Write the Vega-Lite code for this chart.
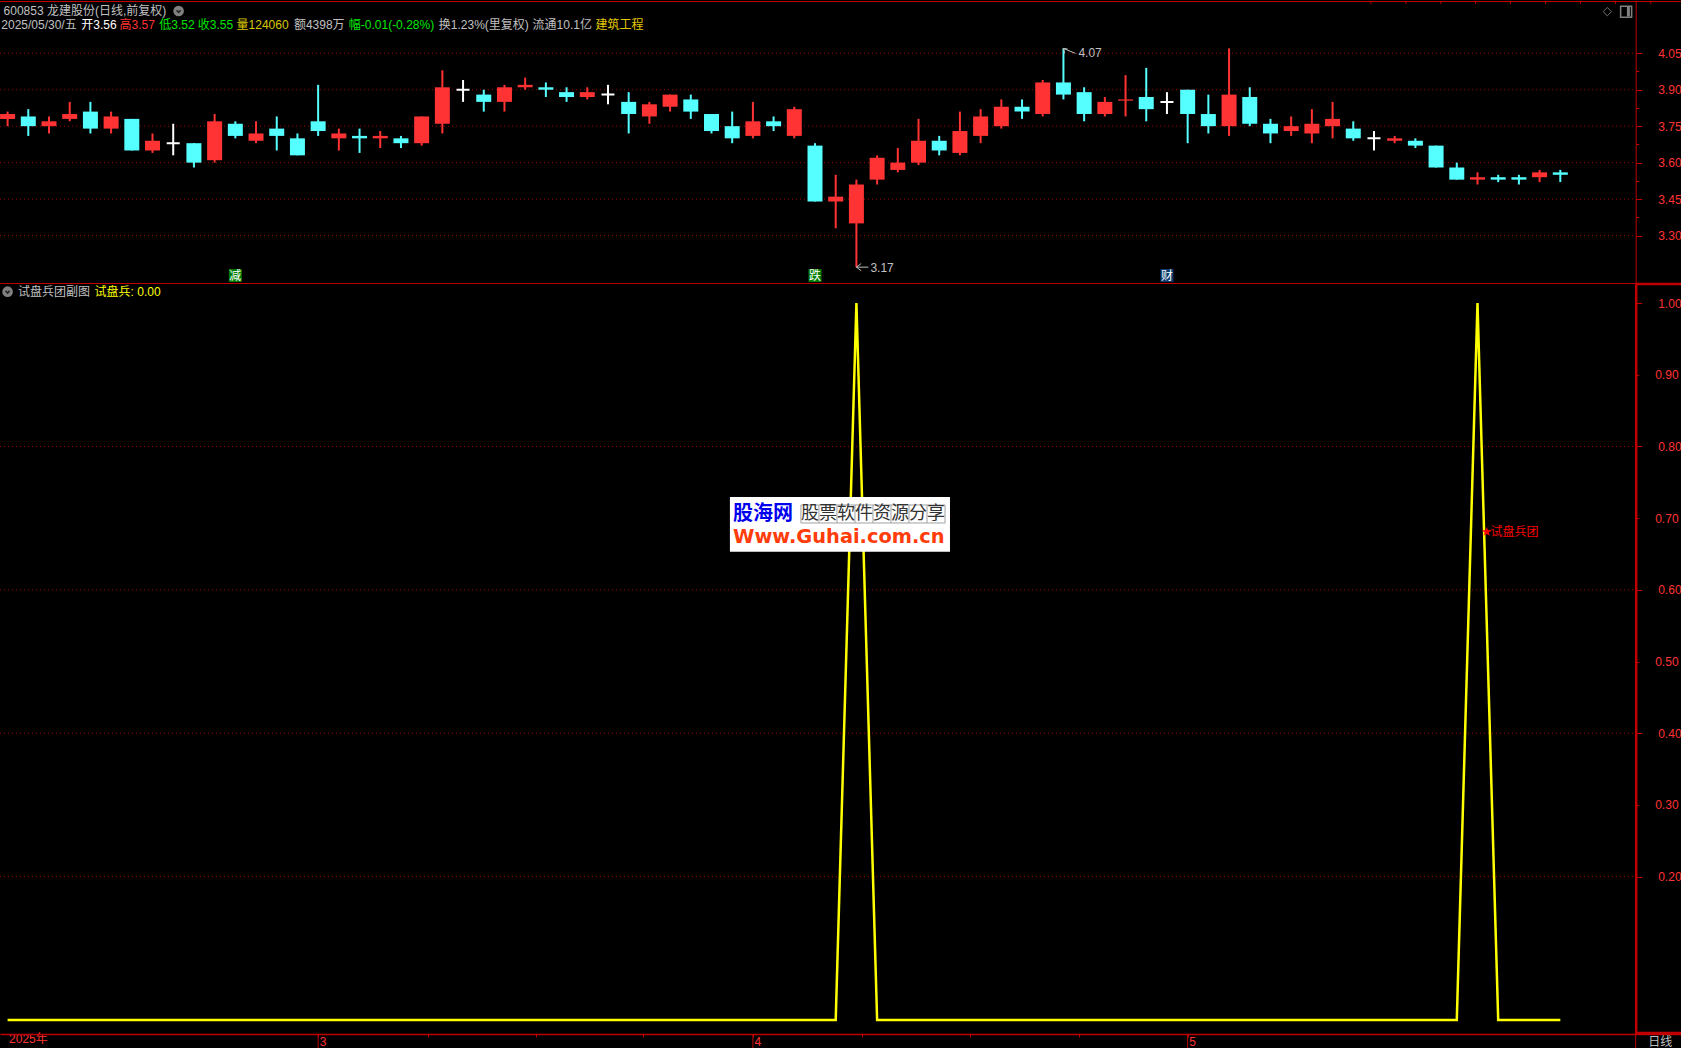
{
"$schema":"https://vega.github.io/schema/vega-lite/v6.json",
"width":1681,"height":1048,"padding":0,"autosize":{"type":"none"},"background":"#000000",
"config":{"view":{"stroke":null},"text":{"font":"Liberation Sans, Noto Sans CJK SC","fontSize":12,"align":"left","baseline":"middle"}},
"datasets":{
"candles":[
{"bar":0,"open":3.78,"high":3.81,"low":3.75,"close":3.80,"dir":"up"},
{"bar":1,"open":3.79,"high":3.82,"low":3.71,"close":3.75,"dir":"down"},
{"bar":2,"open":3.75,"high":3.79,"low":3.72,"close":3.77,"dir":"up"},
{"bar":3,"open":3.78,"high":3.85,"low":3.77,"close":3.80,"dir":"up"},
{"bar":4,"open":3.81,"high":3.85,"low":3.72,"close":3.74,"dir":"down"},
{"bar":5,"open":3.74,"high":3.81,"low":3.72,"close":3.79,"dir":"up"},
{"bar":6,"open":3.78,"high":3.78,"low":3.65,"close":3.65,"dir":"down"},
{"bar":7,"open":3.65,"high":3.72,"low":3.64,"close":3.69,"dir":"up"},
{"bar":8,"open":3.68,"high":3.76,"low":3.63,"close":3.68,"dir":"flat"},
{"bar":9,"open":3.68,"high":3.68,"low":3.58,"close":3.60,"dir":"down"},
{"bar":10,"open":3.61,"high":3.80,"low":3.60,"close":3.77,"dir":"up"},
{"bar":11,"open":3.76,"high":3.77,"low":3.70,"close":3.71,"dir":"down"},
{"bar":12,"open":3.69,"high":3.77,"low":3.68,"close":3.72,"dir":"up"},
{"bar":13,"open":3.74,"high":3.79,"low":3.65,"close":3.71,"dir":"down"},
{"bar":14,"open":3.70,"high":3.72,"low":3.63,"close":3.63,"dir":"down"},
{"bar":15,"open":3.77,"high":3.92,"low":3.71,"close":3.73,"dir":"down"},
{"bar":16,"open":3.70,"high":3.74,"low":3.65,"close":3.72,"dir":"up"},
{"bar":17,"open":3.71,"high":3.74,"low":3.64,"close":3.70,"dir":"down"},
{"bar":18,"open":3.70,"high":3.73,"low":3.66,"close":3.71,"dir":"up"},
{"bar":19,"open":3.70,"high":3.71,"low":3.66,"close":3.68,"dir":"down"},
{"bar":20,"open":3.68,"high":3.79,"low":3.67,"close":3.79,"dir":"up"},
{"bar":21,"open":3.76,"high":3.98,"low":3.72,"close":3.91,"dir":"up"},
{"bar":22,"open":3.90,"high":3.94,"low":3.85,"close":3.90,"dir":"flat"},
{"bar":23,"open":3.88,"high":3.90,"low":3.81,"close":3.85,"dir":"down"},
{"bar":24,"open":3.85,"high":3.92,"low":3.81,"close":3.91,"dir":"up"},
{"bar":25,"open":3.91,"high":3.95,"low":3.90,"close":3.92,"dir":"up"},
{"bar":26,"open":3.91,"high":3.93,"low":3.87,"close":3.90,"dir":"down"},
{"bar":27,"open":3.89,"high":3.91,"low":3.85,"close":3.87,"dir":"down"},
{"bar":28,"open":3.87,"high":3.91,"low":3.86,"close":3.89,"dir":"up"},
{"bar":29,"open":3.88,"high":3.92,"low":3.84,"close":3.88,"dir":"flat"},
{"bar":30,"open":3.85,"high":3.89,"low":3.72,"close":3.80,"dir":"down"},
{"bar":31,"open":3.79,"high":3.85,"low":3.76,"close":3.84,"dir":"up"},
{"bar":32,"open":3.83,"high":3.88,"low":3.81,"close":3.88,"dir":"up"},
{"bar":33,"open":3.86,"high":3.88,"low":3.78,"close":3.81,"dir":"down"},
{"bar":34,"open":3.80,"high":3.80,"low":3.72,"close":3.73,"dir":"down"},
{"bar":35,"open":3.75,"high":3.81,"low":3.68,"close":3.70,"dir":"down"},
{"bar":36,"open":3.71,"high":3.85,"low":3.70,"close":3.77,"dir":"up"},
{"bar":37,"open":3.77,"high":3.79,"low":3.73,"close":3.75,"dir":"down"},
{"bar":38,"open":3.71,"high":3.83,"low":3.70,"close":3.82,"dir":"up"},
{"bar":39,"open":3.67,"high":3.68,"low":3.44,"close":3.44,"dir":"down"},
{"bar":40,"open":3.44,"high":3.55,"low":3.33,"close":3.46,"dir":"up"},
{"bar":41,"open":3.35,"high":3.53,"low":3.17,"close":3.51,"dir":"up"},
{"bar":42,"open":3.53,"high":3.63,"low":3.51,"close":3.62,"dir":"up"},
{"bar":43,"open":3.57,"high":3.66,"low":3.56,"close":3.60,"dir":"up"},
{"bar":44,"open":3.60,"high":3.78,"low":3.59,"close":3.69,"dir":"up"},
{"bar":45,"open":3.69,"high":3.71,"low":3.63,"close":3.65,"dir":"down"},
{"bar":46,"open":3.64,"high":3.81,"low":3.63,"close":3.73,"dir":"up"},
{"bar":47,"open":3.71,"high":3.82,"low":3.68,"close":3.79,"dir":"up"},
{"bar":48,"open":3.75,"high":3.86,"low":3.74,"close":3.83,"dir":"up"},
{"bar":49,"open":3.83,"high":3.86,"low":3.78,"close":3.81,"dir":"down"},
{"bar":50,"open":3.80,"high":3.94,"low":3.79,"close":3.93,"dir":"up"},
{"bar":51,"open":3.93,"high":4.07,"low":3.86,"close":3.88,"dir":"down"},
{"bar":52,"open":3.89,"high":3.91,"low":3.77,"close":3.80,"dir":"down"},
{"bar":53,"open":3.80,"high":3.87,"low":3.79,"close":3.85,"dir":"up"},
{"bar":54,"open":3.855,"high":3.96,"low":3.79,"close":3.86,"dir":"up"},
{"bar":55,"open":3.87,"high":3.99,"low":3.77,"close":3.82,"dir":"down"},
{"bar":56,"open":3.85,"high":3.89,"low":3.80,"close":3.85,"dir":"flat"},
{"bar":57,"open":3.90,"high":3.90,"low":3.68,"close":3.80,"dir":"down"},
{"bar":58,"open":3.80,"high":3.88,"low":3.72,"close":3.75,"dir":"down"},
{"bar":59,"open":3.75,"high":4.07,"low":3.71,"close":3.88,"dir":"up"},
{"bar":60,"open":3.87,"high":3.91,"low":3.75,"close":3.76,"dir":"down"},
{"bar":61,"open":3.76,"high":3.78,"low":3.68,"close":3.72,"dir":"down"},
{"bar":62,"open":3.73,"high":3.79,"low":3.71,"close":3.75,"dir":"up"},
{"bar":63,"open":3.72,"high":3.82,"low":3.68,"close":3.76,"dir":"up"},
{"bar":64,"open":3.75,"high":3.85,"low":3.70,"close":3.78,"dir":"up"},
{"bar":65,"open":3.74,"high":3.77,"low":3.69,"close":3.70,"dir":"down"},
{"bar":66,"open":3.70,"high":3.73,"low":3.65,"close":3.70,"dir":"flat"},
{"bar":67,"open":3.69,"high":3.71,"low":3.68,"close":3.70,"dir":"up"},
{"bar":68,"open":3.69,"high":3.70,"low":3.66,"close":3.67,"dir":"down"},
{"bar":69,"open":3.67,"high":3.67,"low":3.58,"close":3.58,"dir":"down"},
{"bar":70,"open":3.58,"high":3.60,"low":3.53,"close":3.53,"dir":"down"},
{"bar":71,"open":3.53,"high":3.56,"low":3.51,"close":3.54,"dir":"up"},
{"bar":72,"open":3.54,"high":3.55,"low":3.52,"close":3.53,"dir":"down"},
{"bar":73,"open":3.54,"high":3.55,"low":3.51,"close":3.53,"dir":"down"},
{"bar":74,"open":3.54,"high":3.57,"low":3.52,"close":3.56,"dir":"up"},
{"bar":75,"open":3.56,"high":3.57,"low":3.52,"close":3.55,"dir":"down"}
],
"signal":[
{"bar":0,"value":0},{"bar":1,"value":0},{"bar":2,"value":0},{"bar":3,"value":0},{"bar":4,"value":0},{"bar":5,"value":0},{"bar":6,"value":0},{"bar":7,"value":0},{"bar":8,"value":0},{"bar":9,"value":0},
{"bar":10,"value":0},{"bar":11,"value":0},{"bar":12,"value":0},{"bar":13,"value":0},{"bar":14,"value":0},{"bar":15,"value":0},{"bar":16,"value":0},{"bar":17,"value":0},{"bar":18,"value":0},{"bar":19,"value":0},
{"bar":20,"value":0},{"bar":21,"value":0},{"bar":22,"value":0},{"bar":23,"value":0},{"bar":24,"value":0},{"bar":25,"value":0},{"bar":26,"value":0},{"bar":27,"value":0},{"bar":28,"value":0},{"bar":29,"value":0},
{"bar":30,"value":0},{"bar":31,"value":0},{"bar":32,"value":0},{"bar":33,"value":0},{"bar":34,"value":0},{"bar":35,"value":0},{"bar":36,"value":0},{"bar":37,"value":0},{"bar":38,"value":0},{"bar":39,"value":0},
{"bar":40,"value":0},{"bar":41,"value":1},{"bar":42,"value":0},{"bar":43,"value":0},{"bar":44,"value":0},{"bar":45,"value":0},{"bar":46,"value":0},{"bar":47,"value":0},{"bar":48,"value":0},{"bar":49,"value":0},
{"bar":50,"value":0},{"bar":51,"value":0},{"bar":52,"value":0},{"bar":53,"value":0},{"bar":54,"value":0},{"bar":55,"value":0},{"bar":56,"value":0},{"bar":57,"value":0},{"bar":58,"value":0},{"bar":59,"value":0},
{"bar":60,"value":0},{"bar":61,"value":0},{"bar":62,"value":0},{"bar":63,"value":0},{"bar":64,"value":0},{"bar":65,"value":0},{"bar":66,"value":0},{"bar":67,"value":0},{"bar":68,"value":0},{"bar":69,"value":0},
{"bar":70,"value":0},{"bar":71,"value":1},{"bar":72,"value":0},{"bar":73,"value":0},{"bar":74,"value":0},{"bar":75,"value":0}
],
"one":[{"n":1}]
},
"resolve":{"scale":{"y":"independent"},"axis":{"y":"independent"}},
"layer":[
{"layer":[
 {"data":{"values":[{"price":3.30},{"price":3.45},{"price":3.60},{"price":3.75},{"price":3.90},{"price":4.05}]},
  "mark":{"type":"rule","color":"#a80000","strokeWidth":1,"strokeDash":[1,3]},
  "encoding":{
   "x":{"datum":-0.367,"type":"quantitative","scale":{"domain":[-0.367,80.83],"nice":false,"zero":false,"padding":0}},
   "x2":{"datum":78.64},
   "y":{"field":"price","type":"quantitative","scale":{"domain":[3.1027,4.263],"range":[283.5,1.5],"nice":false,"zero":false},
    "axis":{"orient":"right","offset":-45.3,"title":null,"grid":false,"values":[3.3,3.375,3.45,3.525,3.6,3.675,3.75,3.825,3.9,3.975,4.05],
     "labelExpr":"round(datum.value*1000)%150==0?format(datum.value,'.2f'):''","labelColor":"#ff3333","labelFont":"Liberation Sans","labelFontSize":12,"labelPadding":16,"labelOverlap":false,"labelBound":false,"labelFlush":false,
     "tickColor":"#c00000","tickWidth":1,"tickSize":{"condition":{"test":"round(datum.value*1000)%150==0","value":6},"value":3},"domainColor":"#c00000","domainWidth":1}}}},
 {"data":{"values":[{"edge":4.263},{"edge":3.1027}]},
  "mark":{"type":"rule","color":"#c00000","strokeWidth":1},
  "encoding":{"x":{"datum":-0.367,"type":"quantitative"},"x2":{"datum":80.83},"y":{"field":"edge","type":"quantitative"}}},
 {"data":{"values":[{"bar":65.85},{"bar":67.54},{"bar":69.23},{"bar":70.91},{"bar":72.59},{"bar":74.29},{"bar":75.97},{"bar":77.67},{"bar":79.37}]},
  "mark":{"type":"rule","color":"#c00000","strokeWidth":1},
  "encoding":{"x":{"field":"bar","type":"quantitative"},"y":{"datum":4.263},"y2":{"datum":4.2527}}},
 {"data":{"name":"candles"},
  "mark":{"type":"rule","strokeWidth":2},
  "encoding":{"x":{"field":"bar","type":"quantitative"},"y":{"field":"low","type":"quantitative"},"y2":{"field":"high"},
   "color":{"field":"dir","type":"nominal","legend":null,"scale":{"domain":["up","down","flat"],"range":["#ff3333","#55ffff","#ffffff"]}}}},
 {"data":{"name":"candles"},
  "transform":[{"filter":"datum.dir!='flat'"}],
  "mark":{"type":"bar","size":15,"orient":"vertical"},
  "encoding":{"x":{"field":"bar","type":"quantitative"},"y":{"field":"open","type":"quantitative"},"y2":{"field":"close"},
   "color":{"field":"dir","type":"nominal","legend":null,"scale":{"domain":["up","down","flat"],"range":["#ff3333","#55ffff","#ffffff"]}}}},
 {"data":{"name":"candles"},
  "transform":[{"filter":"datum.dir=='flat'"}],
  "mark":{"type":"bar","size":13,"strokeWidth":2,"stroke":"#ffffff","orient":"vertical"},
  "encoding":{"x":{"field":"bar","type":"quantitative"},"y":{"field":"open","type":"quantitative"},"y2":{"field":"close"},
   "color":{"field":"dir","type":"nominal","legend":null,"scale":{"domain":["up","down","flat"],"range":["#ff3333","#55ffff","#ffffff"]}}}},
 {"data":{"values":[{"bar":41,"price":3.17,"label":"3.17"}]},
  "mark":{"type":"point","shape":"M0,0L1,0M0,0L0.4,-0.3M0,0L0.4,0.3","size":576,"filled":false,"color":"#c0c0c0","strokeWidth":1,"opacity":1},
  "encoding":{"x":{"field":"bar","type":"quantitative"},"y":{"field":"price","type":"quantitative"}}},
 {"data":{"values":[{"bar":41,"price":3.17,"label":"3.17"}]},
  "mark":{"type":"text","color":"#c0c0c0","dx":14,"dy":1},
  "encoding":{"x":{"field":"bar","type":"quantitative"},"y":{"field":"price","type":"quantitative"},"text":{"field":"label"}}},
 {"data":{"values":[{"bar":51,"price":4.07,"label":"4.07"}]},
  "mark":{"type":"point","shape":"M0,0L1,0.42M0,0L0.35,0.05M0,0L0.1,0.4","size":576,"filled":false,"color":"#c0c0c0","strokeWidth":1,"opacity":1},
  "encoding":{"x":{"field":"bar","type":"quantitative"},"y":{"field":"price","type":"quantitative"}}},
 {"data":{"values":[{"bar":51,"price":4.07,"label":"4.07"}]},
  "mark":{"type":"text","color":"#c0c0c0","dx":15,"dy":5},
  "encoding":{"x":{"field":"bar","type":"quantitative"},"y":{"field":"price","type":"quantitative"},"text":{"field":"label"}}},
 {"data":{"values":[{"bar":11,"label":"减"},{"bar":39,"label":"跌"}]},
  "mark":{"type":"point","shape":"square","size":169,"filled":true,"color":"#007a00","opacity":1},
  "encoding":{"x":{"field":"bar","type":"quantitative"},"y":{"datum":3.1356}}},
 {"data":{"values":[{"bar":56,"label":"财"}]},
  "mark":{"type":"point","shape":"square","size":169,"filled":true,"color":"#0a3a6e","opacity":1},
  "encoding":{"x":{"field":"bar","type":"quantitative"},"y":{"datum":3.1356}}},
 {"data":{"values":[{"bar":11,"label":"减"},{"bar":39,"label":"跌"},{"bar":56,"label":"财"}]},
  "mark":{"type":"text","color":"#ffffff","align":"center"},
  "encoding":{"x":{"field":"bar","type":"quantitative"},"y":{"datum":3.1356},"text":{"field":"label"}}},
 {"data":{"values":[{"t":"600853 龙建股份(日线,前复权)"}]},"mark":{"type":"text","color":"#c0c0c0"},"encoding":{"x":{"datum":-0.193},"y":{"datum":4.224},"text":{"field":"t"}}},
 {"data":{"name":"one"},"mark":{"type":"point","shape":"circle","size":113,"filled":true,"color":"#808080","opacity":1},"encoding":{"x":{"datum":8.26},"y":{"datum":4.224}}},
 {"data":{"name":"one"},"mark":{"type":"point","shape":"M-0.5,-0.2L0,0.35L0.5,-0.2","size":64,"filled":false,"color":"#222222","strokeWidth":1.5,"opacity":1},"encoding":{"x":{"datum":8.26},"y":{"datum":4.224}}},
 {"data":{"values":[{"t":"2025/05/30/五"}]},"mark":{"type":"text","color":"#c0c0c0"},"encoding":{"x":{"datum":-0.304},"y":{"datum":4.1665},"text":{"field":"t"}}},
 {"data":{"values":[{"t":"开3.56"}]},"mark":{"type":"text","color":"#ffffff"},"encoding":{"x":{"datum":3.56},"y":{"datum":4.1665},"text":{"field":"t"}}},
 {"data":{"values":[{"t":"高3.57"}]},"mark":{"type":"text","color":"#ff3333"},"encoding":{"x":{"datum":5.41},"y":{"datum":4.1665},"text":{"field":"t"}}},
 {"data":{"values":[{"t":"低3.52"}]},"mark":{"type":"text","color":"#00e600"},"encoding":{"x":{"datum":7.33},"y":{"datum":4.1665},"text":{"field":"t"}}},
 {"data":{"values":[{"t":"收3.55"}]},"mark":{"type":"text","color":"#00e600"},"encoding":{"x":{"datum":9.19},"y":{"datum":4.1665},"text":{"field":"t"}}},
 {"data":{"values":[{"t":"量124060"}]},"mark":{"type":"text","color":"#d8c800"},"encoding":{"x":{"datum":11.06},"y":{"datum":4.1665},"text":{"field":"t"}}},
 {"data":{"values":[{"t":"额4398万"}]},"mark":{"type":"text","color":"#c0c0c0"},"encoding":{"x":{"datum":13.83},"y":{"datum":4.1665},"text":{"field":"t"}}},
 {"data":{"values":[{"t":"幅-0.01(-0.28%)"}]},"mark":{"type":"text","color":"#00e600"},"encoding":{"x":{"datum":16.48},"y":{"datum":4.1665},"text":{"field":"t"}}},
 {"data":{"values":[{"t":"换1.23%(里复权)"}]},"mark":{"type":"text","color":"#c0c0c0"},"encoding":{"x":{"datum":20.83},"y":{"datum":4.1665},"text":{"field":"t"}}},
 {"data":{"values":[{"t":"流通10.1亿"}]},"mark":{"type":"text","color":"#c0c0c0"},"encoding":{"x":{"datum":25.36},"y":{"datum":4.1665},"text":{"field":"t"}}},
 {"data":{"values":[{"t":"建筑工程"}]},"mark":{"type":"text","color":"#e0c800"},"encoding":{"x":{"datum":28.40},"y":{"datum":4.1665},"text":{"field":"t"}}},
 {"data":{"name":"one"},"mark":{"type":"point","shape":"diamond","size":70,"filled":false,"color":"#707070","strokeWidth":1,"opacity":1},"encoding":{"x":{"datum":77.27},"y":{"datum":4.2212}}},
 {"data":{"name":"one"},"mark":{"type":"point","shape":"square","size":121,"filled":false,"color":"#808080","strokeWidth":1.5,"opacity":1},"encoding":{"x":{"datum":78.18},"y":{"datum":4.2212}}},
 {"data":{"name":"one"},"mark":{"type":"rule","color":"#808080","strokeWidth":3},"encoding":{"x":{"datum":78.29},"y":{"datum":4.2415},"y2":{"datum":4.2009}}}
]},
{"layer":[
 {"data":{"values":[{"value":0.2},{"value":0.4},{"value":0.6},{"value":0.8}]},
  "mark":{"type":"rule","color":"#a80000","strokeWidth":1,"strokeDash":[1,3]},
  "encoding":{
   "x":{"datum":-0.367,"type":"quantitative","scale":{"domain":[-0.367,80.83],"nice":false,"zero":false,"padding":0}},"x2":{"datum":78.64},
   "y":{"field":"value","type":"quantitative","scale":{"domain":[-0.0195,1.0272],"range":[1034,283.5],"nice":false,"zero":false},
    "axis":{"orient":"right","offset":-45.3,"title":null,"grid":false,"values":[0.2,0.3,0.4,0.5,0.6,0.7,0.8,0.9,1],"format":".2f","labelColor":"#ff3333","labelFont":"Liberation Sans","labelFontSize":12,"labelPadding":16,"labelOverlap":false,"labelBound":false,"labelFlush":false,
     "tickColor":"#c00000","tickWidth":1,"tickSize":{"condition":{"test":"round(datum.value*10)%2==0","value":6},"value":3},"domainColor":"#c00000","domainWidth":2.5}}}},
 {"data":{"name":"signal"},
  "mark":{"type":"line","color":"#ffff00","strokeWidth":2.5,"interpolate":"linear"},
  "encoding":{"x":{"field":"bar","type":"quantitative",
    "axis":{"orient":"bottom","offset":-14,"title":null,"grid":false,"values":[0,15,20.3,25.5,30.7,36,41.26,46.48,51.74,57],
     "labelExpr":"datum.value==0?'2025年':datum.value==15?'3':datum.value==36?'4':datum.value==57?'5':''","labelAlign":"left","labelBaseline":"middle","labelColor":"#ff3333","labelFont":"Liberation Sans, Noto Sans CJK SC","labelFontSize":12,"labelPadding":4,"labelOffset":1,"labelOverlap":false,"labelBound":false,"labelFlush":false,
     "tickColor":"#c00000","tickWidth":1,"tickSize":{"condition":{"test":"datum.value==0","value":0},"value":3},"domainColor":"#c00000","domainWidth":1.5}},
   "y":{"field":"value","type":"quantitative"}}},
 {"data":{"values":[{"bar":15},{"bar":36},{"bar":57},{"bar":78.64}]},
  "mark":{"type":"rule","color":"#c00000","strokeWidth":1},
  "encoding":{"x":{"field":"bar","type":"quantitative"},"y":{"datum":-0.0195},"y2":{"datum":-0.039}}},
 {"data":{"values":[{"edge":1.0265},{"edge":-0.0180}]},
  "mark":{"type":"rule","color":"#c00000","strokeWidth":2.5},
  "encoding":{"x":{"datum":78.64,"type":"quantitative"},"x2":{"datum":80.83},"y":{"field":"edge","type":"quantitative"}}},
 {"data":{"values":[{"bar":71,"value":0.68,"label":"试盘兵团"}]},
  "mark":{"type":"text","color":"#ff0000","dx":13},
  "encoding":{"x":{"field":"bar","type":"quantitative"},"y":{"field":"value","type":"quantitative"},"text":{"field":"label"}}},
 {"data":{"values":[{"bar":71,"value":0.68,"label":"★"}]},
  "mark":{"type":"text","color":"#ff0000","dx":9,"align":"center","fontSize":10},
  "encoding":{"x":{"field":"bar","type":"quantitative"},"y":{"field":"value","type":"quantitative"},"text":{"field":"label"}}},
 {"data":{"name":"one"},"mark":{"type":"point","shape":"circle","size":113,"filled":true,"color":"#808080","opacity":1},"encoding":{"x":{"datum":0},"y":{"datum":1.0158}}},
 {"data":{"name":"one"},"mark":{"type":"point","shape":"M-0.5,-0.2L0,0.35L0.5,-0.2","size":64,"filled":false,"color":"#222222","strokeWidth":1.5,"opacity":1},"encoding":{"x":{"datum":0},"y":{"datum":1.0158}}},
 {"data":{"values":[{"t":"试盘兵团副图"}]},"mark":{"type":"text","color":"#c0c0c0"},"encoding":{"x":{"datum":0.5},"y":{"datum":1.0158},"text":{"field":"t"}}},
 {"data":{"values":[{"t":"试盘兵: 0.00"}]},"mark":{"type":"text","color":"#ffff00"},"encoding":{"x":{"datum":4.2},"y":{"datum":1.0158},"text":{"field":"t"}}},
 {"data":{"values":[{"t":"日线"}]},"mark":{"type":"text","color":"#c0c0c0"},"encoding":{"x":{"datum":79.25},"y":{"datum":-0.0307},"text":{"field":"t"}}},
 {"data":{"name":"one"},"mark":{"type":"rect","color":"#ffffff"},"encoding":{"x":{"datum":34.89},"x2":{"datum":45.52},"y":{"datum":0.7294},"y2":{"datum":0.6531}}},
 {"data":{"name":"one"},"mark":{"type":"rect","fill":"#ffffff","stroke":"#a0a0a0","strokeWidth":1},"encoding":{"x":{"datum":38.32},"x2":{"datum":45.28},"y":{"datum":0.7183},"y2":{"datum":0.6932}}},
 {"data":{"values":[{"bar":39.19},{"bar":40.06},{"bar":40.93},{"bar":41.80},{"bar":42.67},{"bar":43.54},{"bar":44.41}]},"mark":{"type":"rule","color":"#a0a0a0","strokeWidth":1},"encoding":{"x":{"field":"bar","type":"quantitative"},"y":{"datum":0.7183},"y2":{"datum":0.6932}}},
 {"data":{"values":[{"t":"股海网"}]},"mark":{"type":"text","color":"#0000ee","font":"Noto Sans CJK SC","fontWeight":"bold","fontSize":20},"encoding":{"x":{"datum":35.04},"y":{"datum":0.7057},"text":{"field":"t"}}},
 {"data":{"values":[{"t":"股票软件资源分享"}]},"mark":{"type":"text","color":"#333333","font":"Noto Sans CJK SC","fontSize":18},"encoding":{"x":{"datum":38.32},"y":{"datum":0.7057},"text":{"field":"t"}}},
 {"data":{"values":[{"t":"Www.Guhai.com.cn"}]},"mark":{"type":"text","color":"#ff3c0a","font":"DejaVu Sans","fontWeight":"bold","fontSize":19.4},"encoding":{"x":{"datum":35.04},"y":{"datum":0.6741},"text":{"field":"t"}}}
]}
]
}
